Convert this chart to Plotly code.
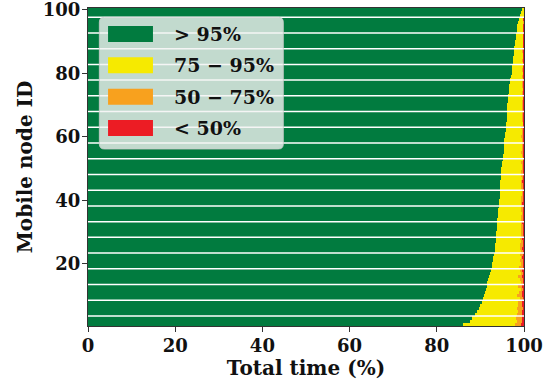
import numpy as np
import plotly.graph_objects as go

# Share of total time (%) each mobile node spends in each availability band
node_ids = list(range(1, 101))

green = [86.1, 87.5, 88.1, 88.7, 89.2, 89.6, 90.0, 90.3, 90.6, 90.8,
         91.0, 91.2, 91.4, 91.5, 91.7, 92.0, 92.2, 92.4, 92.6, 92.7,
         92.9, 93.0, 93.1, 93.3, 93.4, 93.4, 93.5, 93.5, 93.6, 93.6,
         93.7, 93.8, 93.9, 93.9, 94.0, 94.1, 94.1, 94.2, 94.3, 94.3,
         94.4, 94.4, 94.5, 94.5, 94.6, 94.6, 94.7, 94.7, 94.8, 94.8,
         94.9, 95.0, 95.1, 95.2, 95.3, 95.3, 95.4, 95.5, 95.5, 95.6,
         95.7, 95.8, 95.8, 95.9, 96.0, 96.0, 96.1, 96.1, 96.2, 96.2,
         96.3, 96.4, 96.4, 96.5, 96.6, 96.6, 96.8, 96.9, 97.0, 97.2,
         97.3, 97.3, 97.4, 97.5, 97.5, 97.6, 97.7, 97.8, 97.9, 98.0,
         98.1, 98.2, 98.3, 98.4, 98.5, 98.7, 98.9, 99.1, 99.3, 99.6]

orange = [1.4, 1.2, 1.5, 1.3, 1.0, 1.3, 0.9, 1.1, 0.7, 1.2,
          0.8, 0.6, 1.0, 0.5, 0.9, 1.0, 0.6, 0.4, 0.9, 0.6,
          0.7, 0.3, 0.8, 0.5, 0.4, 0.9, 0.3, 0.6, 0.5, 0.4,
          0.6, 0.3, 0.2, 0.7, 0.4, 0.3, 0.5, 0.6, 0.2, 0.4,
          0.5, 0.3, 0.2, 0.4, 0.6, 0.3, 0.2, 0.5, 0.3, 0.2,
          0.3, 0.4, 0.1, 0.3, 0.5, 0.2, 0.3, 0.2, 0.1, 0.4,
          0.3, 0.2, 0.6, 0.1, 0.2, 0.3, 0.2, 0.1, 0.3, 0.2,
          0.2, 0.1, 0.3, 0.2, 0.1, 0.3, 0.2, 0.1, 0.2, 0.1,
          0.2, 0.1, 0.1, 0.2, 0.1, 0.1, 0.2, 0.1, 0.1, 0.1,
          0.1, 0.1, 0.0, 0.1, 0.0, 0.1, 0.0, 0.0, 0.0, 0.0]

red = [0.6, 0.4, 0.3, 0.4, 0.3, 0.2, 0.4, 0.3, 0.2, 0.3,
       0.3, 0.2, 0.3, 0.2, 0.1, 0.3, 0.2, 0.4, 0.2, 0.1,
       0.2, 0.3, 0.1, 0.2, 0.3, 0.1, 0.2, 0.3, 0.1, 0.2,
       0.1, 0.2, 0.3, 0.1, 0.2, 0.1, 0.1, 0.2, 0.3, 0.1,
       0.2, 0.1, 0.1, 0.2, 0.1, 0.3, 0.1, 0.1, 0.2, 0.1,
       0.1, 0.2, 0.1, 0.1, 0.1, 0.2, 0.1, 0.1, 0.2, 0.1,
       0.1, 0.2, 0.1, 0.1, 0.2, 0.1, 0.1, 0.2, 0.1, 0.1,
       0.1, 0.1, 0.1, 0.1, 0.1, 0.1, 0.1, 0.1, 0.1, 0.1,
       0.1, 0.1, 0.1, 0.1, 0.1, 0.1, 0.1, 0.1, 0.1, 0.1,
       0.1, 0.1, 0.1, 0.1, 0.1, 0.0, 0.1, 0.0, 0.0, 0.0]

# yellow fills whatever remains up to 100 %
yellow = [round(100 - g - o - r, 2) for g, o, r in zip(green, orange, red)]

band_labels = ["&gt; 95%", "75 \u2212 95%", "50 \u2212 75%", "&lt; 50%"]
band_colors = ["#017B3F", "#F6EA00", "#F8A11E", "#EC1C24"]
band_values = [green, yellow, orange, red]

x_ticks = [0, 20, 40, 60, 80, 100]
y_ticks = [20, 40, 60, 80, 100]

FONT = "DejaVu Serif"
TICK_SIZE = 18
TITLE_SIZE = 20
LEGEND_SIZE = 19

fig = go.Figure()
for name, color, vals in zip(band_labels, band_colors, band_values):
    fig.add_trace(go.Bar(
        x=vals, y=node_ids, orientation="h", name=name,
        marker=dict(color=color, line=dict(width=0)),
        width=1.0, showlegend=False,
    ))

# thin white separators across the bars
sep_lines = np.linspace(3.65, 97.6, 20)
shapes = []
for yv in sep_lines:
    shapes.append(dict(type="line", xref="x", yref="y", x0=0, x1=100, y0=yv, y1=yv,
                       line=dict(color="white", width=1.5), layer="above"))

# legend panel drawn by hand so the colour patches can be wide rectangles
PH = 318.0  # plot height in px
bx0, bx1 = 0.026, 0.448
by0, by1 = (326 - 149) / PH, (326 - 17.3) / PH
rx, ry = 5 / 436, 5 / PH
path = (f"M{bx0+rx},{by0} L{bx1-rx},{by0} Q{bx1},{by0} {bx1},{by0+ry} "
        f"L{bx1},{by1-ry} Q{bx1},{by1} {bx1-rx},{by1} "
        f"L{bx0+rx},{by1} Q{bx0},{by1} {bx0},{by1-ry} "
        f"L{bx0},{by0+ry} Q{bx0},{by0} {bx0+rx},{by0} Z")
shapes.append(dict(type="path", xref="paper", yref="paper", path=path,
                   fillcolor="rgba(242,242,242,0.8)",
                   line=dict(color="rgba(205,205,205,0.8)", width=1), layer="above"))

annotations = []
row_px = [34, 65.3, 96.7, 128]
for (name, color), py in zip(zip(band_labels, band_colors), row_px):
    yc = (326 - py) / PH
    h = 8 / PH
    shapes.append(dict(type="rect", xref="paper", yref="paper",
                       x0=0.046, x1=0.149, y0=yc - h, y1=yc + h,
                       fillcolor=color, line=dict(width=0), layer="above"))
    annotations.append(dict(xref="paper", yref="paper", x=0.192, y=yc,
                            text=f"<b>{name}</b>", showarrow=False,
                            xanchor="left", yanchor="middle",
                            font=dict(family=FONT, size=LEGEND_SIZE, color="#111")))

axis_common = dict(
    showline=True, linecolor="#333", linewidth=1.2, mirror=True,
    ticks="outside", ticklen=5, tickwidth=1.2, tickcolor="#333",
    showgrid=False, zeroline=False, ticklabeloverflow="allow",
    automargin=False,
    tickfont=dict(family=FONT, size=TICK_SIZE, color="#111"),
)

fig.update_layout(
    barmode="stack", bargap=0,
    width=552, height=389,
    margin=dict(l=88, r=28, t=8, b=63),
    paper_bgcolor="white", plot_bgcolor="white",
    shapes=shapes, annotations=annotations,
    xaxis=dict(range=[0, 100], tickvals=x_ticks,
               ticktext=[f"<b>{v}</b>" for v in x_ticks],
               ticklabelstandoff=-2,
               title=dict(text="<b>Total time (%)</b>", standoff=2,
                          font=dict(family=FONT, size=TITLE_SIZE, color="#111")),
               **axis_common),
    yaxis=dict(range=[0.5, 100.5], tickvals=y_ticks,
               ticktext=[f"<b>{v}</b>" for v in y_ticks],
               ticklabelstandoff=-2,
               title=dict(text="<b>Mobile node ID</b>", standoff=4,
                          font=dict(family=FONT, size=TITLE_SIZE, color="#111")),
               **axis_common),
)

fig.write_html("out.html")
